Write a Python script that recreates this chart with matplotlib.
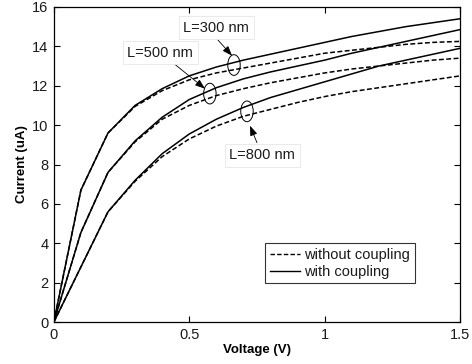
import matplotlib
matplotlib.use("Agg")
import matplotlib.pyplot as plt
from matplotlib.patches import Ellipse

plt.rcParams['font.family'] = ['Liberation Sans', 'DejaVu Sans']

# ---- data (current in uA vs voltage in V) ----
voltage = [0.0, 0.1, 0.2, 0.3, 0.4, 0.5, 0.6, 0.7, 0.8, 0.9, 1.0, 1.1, 1.2, 1.3, 1.4, 1.5]

l300_with    = [0, 6.7, 9.6, 11.0, 11.85, 12.5, 12.95, 13.3, 13.6, 13.9, 14.2, 14.5, 14.75, 15.0, 15.2, 15.4]
l300_without = [0, 6.7, 9.6, 10.95, 11.75, 12.3, 12.65, 12.9, 13.15, 13.4, 13.65, 13.8, 13.95, 14.1, 14.2, 14.25]
l500_with    = [0, 4.55, 7.6, 9.2, 10.4, 11.3, 11.9, 12.35, 12.7, 13.0, 13.3, 13.65, 13.95, 14.25, 14.55, 14.85]
l500_without = [0, 4.55, 7.6, 9.15, 10.3, 11.0, 11.5, 11.85, 12.15, 12.4, 12.65, 12.85, 13.0, 13.15, 13.3, 13.4]
l800_with    = [0, 2.8, 5.6, 7.2, 8.55, 9.55, 10.3, 10.9, 11.4, 11.8, 12.2, 12.6, 13.0, 13.3, 13.6, 13.9]
l800_without = [0, 2.8, 5.6, 7.15, 8.4, 9.3, 9.95, 10.45, 10.8, 11.15, 11.45, 11.7, 11.9, 12.1, 12.3, 12.5]

labels = ["L=300 nm", "L=500 nm", "L=800 nm"]
label_pos = [(0.60, 14.94), (0.393, 13.67), (0.77, 8.46)]
arrow_tail = [(0.602, 14.38), (0.44, 13.16), (0.75, 9.11)]
arrow_head = [(0.658, 13.52), (0.558, 11.85), (0.724, 9.97)]
ellipse_ctr = [(0.665, 13.05), (0.576, 11.6), (0.713, 10.7)]

fig = plt.figure(figsize=(4.72, 3.64), dpi=100)
ax = fig.add_axes([0.114, 0.115, 0.861, 0.866])

ink = "#1a1a1a"
dash = (0, (3.2, 1.6))
for ys in (l300_without, l500_without, l800_without):
    ax.plot(voltage, ys, color="black", ls=dash, lw=1.1)
for ys in (l300_with, l500_with, l800_with):
    ax.plot(voltage, ys, color="black", ls="-", lw=1.1)

# legend proxies
h1, = ax.plot([], [], color="black", ls=dash, lw=1.0, label="without coupling")
h2, = ax.plot([], [], color="black", ls="-", lw=1.0, label="with coupling")
leg = ax.legend(handles=[h1, h2], loc="lower left", bbox_to_anchor=(0.52, 0.124),
                fontsize=10.5, frameon=True, fancybox=False, edgecolor="black",
                handlelength=2.1, handletextpad=0.3, borderpad=0.3,
                labelspacing=0.2, borderaxespad=0)
leg.get_frame().set_linewidth(0.8)
for t in leg.get_texts():
    t.set_color(ink)

for txt, pos, tail, head, ctr in zip(labels, label_pos, arrow_tail, arrow_head, ellipse_ctr):
    ax.add_patch(Ellipse(ctr, 0.046, 1.05, fill=False, ec="black", lw=0.7))
    ax.annotate("", xy=head, xytext=tail,
                arrowprops=dict(arrowstyle="-|>,head_length=0.6,head_width=0.22",
                                color="black", lw=0.6, shrinkA=0, shrinkB=0))
    ax.text(pos[0], pos[1], txt, ha="center", va="center", fontsize=10.5, color=ink,
            bbox=dict(boxstyle="square,pad=0.3", fc="white", ec="#e6e6e6", lw=0.6))

ax.set_xlim(0, 1.5)
ax.set_ylim(0, 16)
ax.set_xticks([0, 0.5, 1, 1.5])
ax.set_xticklabels(["0", "0.5", "1", "1.5"])
ax.set_yticks(range(0, 17, 2))
ax.tick_params(direction="in", top=True, right=True, length=4, width=0.8,
               labelsize=10.5, labelcolor=ink, pad=4)
for s in ax.spines.values():
    s.set_linewidth(0.9)
ax.set_xlabel("Voltage (V)", fontsize=9.5, fontweight="bold", labelpad=2)
ax.set_ylabel("Current (uA)", fontsize=9.5, fontweight="bold", labelpad=3)

fig.savefig("out.png", dpi=100)
